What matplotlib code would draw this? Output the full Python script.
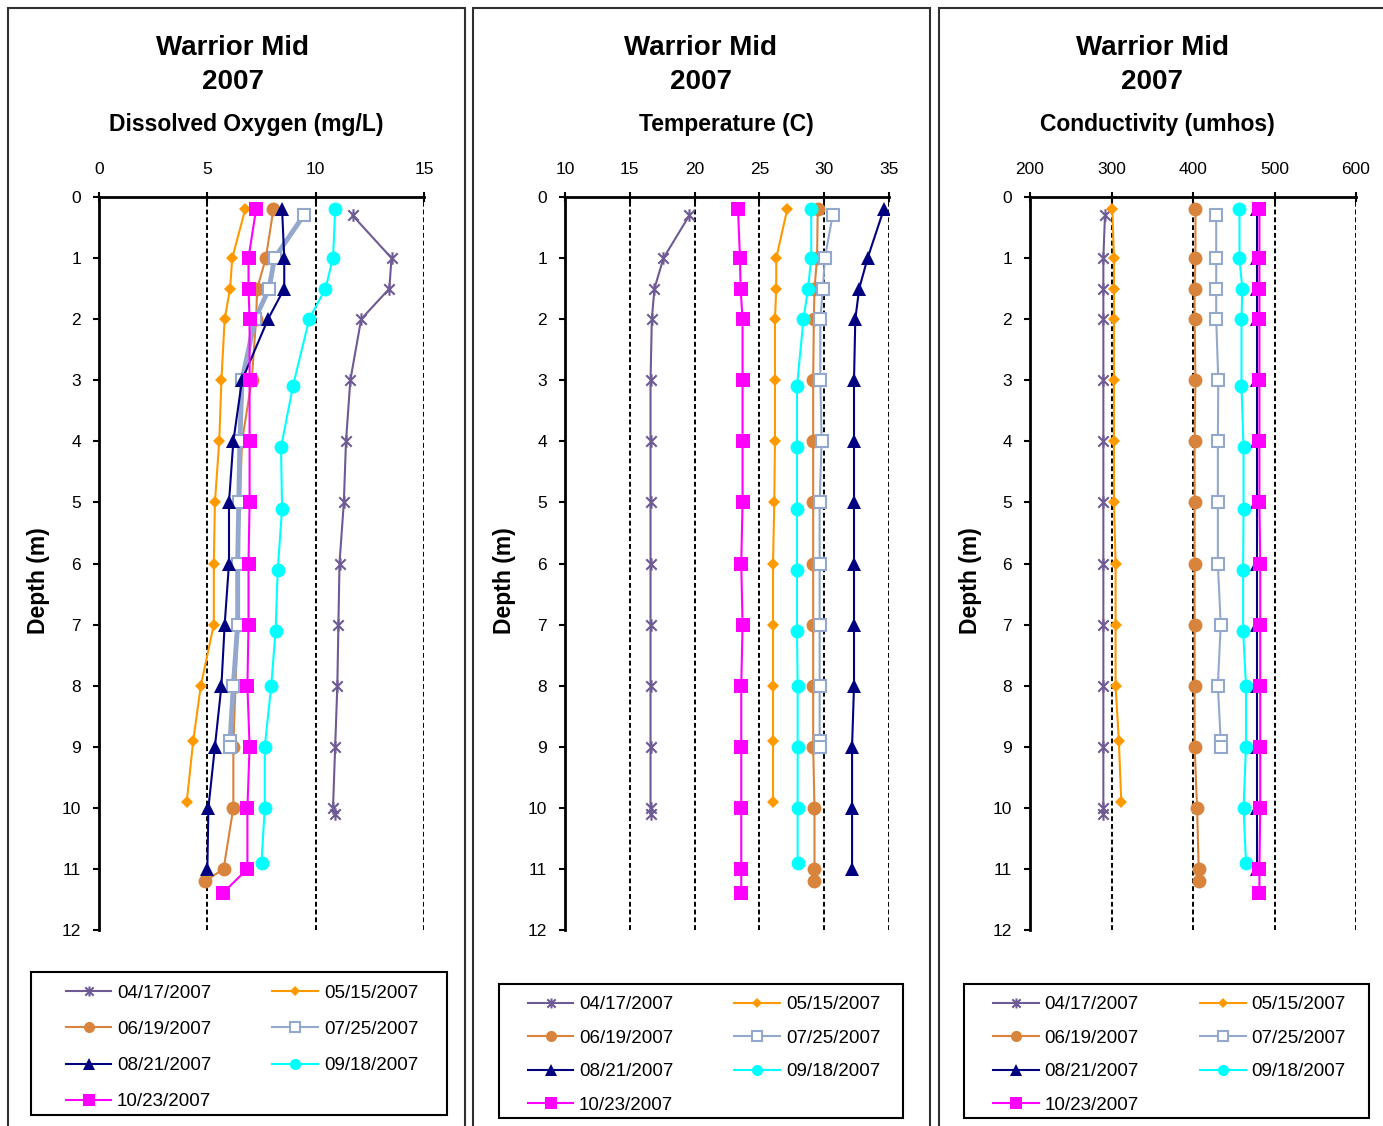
import matplotlib
matplotlib.use("Agg")
import matplotlib.pyplot as plt
from matplotlib.path import Path
from matplotlib.patches import Rectangle
from matplotlib.lines import Line2D

plt.rcParams["font.family"] = ["Liberation Sans", "DejaVu Sans"]

W, H = 1383, 1126

dates = ["04/17/2007", "05/15/2007", "06/19/2007", "07/25/2007",
         "08/21/2007", "09/18/2007", "10/23/2007"]

# sample depths (m) for each date
depth_0417 = [0.3, 1, 1.5, 2, 3, 4, 5, 6, 7, 8, 9, 10, 10.1]
depth_0515 = [0.2, 1, 1.5, 2, 3, 4, 5, 6, 7, 8, 8.9, 9.9]
depth_0619 = [0.2, 1, 1.5, 2, 3, 4, 5, 6, 7, 8, 9, 10, 11, 11.2]
depth_0725 = [0.3, 1, 1.5, 2, 3, 4, 5, 6, 7, 8, 8.9, 9]
depth_0821 = [0.2, 1, 1.5, 2, 3, 4, 5, 6, 7, 8, 9, 10, 11]
depth_0918 = [0.2, 1, 1.5, 2, 3.1, 4.1, 5.1, 6.1, 7.1, 8, 9, 10, 10.9]
depth_1023 = [0.2, 1, 1.5, 2, 3, 4, 5, 6, 7, 8, 9, 10, 11, 11.4]

# dissolved oxygen (mg/L)
do_0417 = [11.7, 13.5, 13.4, 12.1, 11.6, 11.4, 11.3, 11.1, 11.05, 11.0, 10.9, 10.8, 10.9]
do_0515 = [6.75, 6.15, 6.05, 5.8, 5.65, 5.55, 5.35, 5.3, 5.3, 4.7, 4.35, 4.05]
do_0619 = [8.05, 7.7, 7.3, 7.25, 7.05, 6.6, 6.5, 6.4, 6.4, 6.3, 6.2, 6.2, 5.75, 4.9]
do_0725 = [9.45, 8.1, 7.85, 7.2, 6.6, 6.5, 6.45, 6.4, 6.4, 6.2, 6.05, 6.05]
do_0821 = [8.45, 8.55, 8.55, 7.8, 6.6, 6.2, 6.0, 6.0, 5.8, 5.65, 5.35, 5.05, 5.0]
do_0918 = [10.9, 10.8, 10.45, 9.7, 8.95, 8.4, 8.45, 8.25, 8.15, 7.95, 7.65, 7.65, 7.5]
do_1023 = [7.25, 6.9, 6.9, 6.95, 6.95, 6.95, 6.95, 6.9, 6.9, 6.85, 6.95, 6.85, 6.85, 5.7]

# temperature (C)
temp_0417 = [19.6, 17.6, 16.9, 16.7, 16.6, 16.6, 16.6, 16.6, 16.6, 16.6, 16.6, 16.6, 16.6]
temp_0515 = [27.15, 26.3, 26.3, 26.2, 26.2, 26.2, 26.15, 26.05, 26.05, 26.05, 26.05, 26.05]
temp_0619 = [29.5, 29.45, 29.25, 29.2, 29.15, 29.15, 29.15, 29.15, 29.15, 29.15, 29.15, 29.25, 29.25, 29.25]
temp_0725 = [30.65, 30.05, 29.9, 29.7, 29.7, 29.8, 29.65, 29.65, 29.65, 29.65, 29.65, 29.65]
temp_0821 = [34.6, 33.35, 32.7, 32.4, 32.3, 32.3, 32.3, 32.3, 32.3, 32.3, 32.15, 32.15, 32.15]
temp_0918 = [29.0, 29.0, 28.75, 28.4, 27.9, 27.9, 27.9, 27.9, 27.9, 27.95, 27.95, 27.95, 27.95]
temp_1023 = [23.35, 23.5, 23.55, 23.7, 23.7, 23.7, 23.7, 23.6, 23.7, 23.6, 23.6, 23.6, 23.6, 23.6]

# conductivity (umhos)
cond_0417 = [292, 290, 290, 290, 290, 290, 290, 290, 290, 290, 290, 290, 290]
cond_0515 = [301, 303, 303, 303, 303, 303, 303, 305, 305, 305, 309, 312]
cond_0619 = [403, 403, 402, 402, 403, 402, 402, 402, 402, 402, 402, 405, 407, 407]
cond_0725 = [428.5, 428.5, 428.5, 428.5, 431, 430.5, 430.5, 430.5, 434, 430.5, 434, 434]
cond_0821 = [479, 479, 479, 479, 479, 479, 479, 479, 479, 479, 479, 479, 479]
cond_0918 = [457, 457, 460.5, 459.5, 459.5, 462, 462, 461.5, 461.5, 465, 465, 462, 465]
cond_1023 = [481.5, 481.5, 481.5, 481.5, 481.5, 481.5, 481.5, 482.5, 482.5, 482.5, 482.5, 482.5, 481.5, 481.5]

depths = [depth_0417, depth_0515, depth_0619, depth_0725, depth_0821, depth_0918, depth_1023]
do_vals = [do_0417, do_0515, do_0619, do_0725, do_0821, do_0918, do_1023]
temp_vals = [temp_0417, temp_0515, temp_0619, temp_0725, temp_0821, temp_0918, temp_1023]
cond_vals = [cond_0417, cond_0515, cond_0619, cond_0725, cond_0821, cond_0918, cond_1023]

# excel style star: an X with a vertical bar
star = Path([(-1, -1), (1, 1), (-1, 1), (1, -1), (0, -1.2), (0, 1.2)],
            [Path.MOVETO, Path.LINETO, Path.MOVETO, Path.LINETO, Path.MOVETO, Path.LINETO])

styles = [
    dict(color="#6E5A94", marker=star, ms=9, mew=1.5, mfc="#6E5A94", mec="#6E5A94"),
    dict(color="#FF9900", marker="D", ms=6.5, mew=0, mfc="#FF9900"),
    dict(color="#D9843C", marker="o", ms=10, mew=0, mfc="#D9843C"),
    dict(color="#93A8CC", marker="s", ms=8.5, mew=1.5, mfc="white", mec="#93A8CC"),
    dict(color="#000080", marker="^", ms=10, mew=0, mfc="#000080"),
    dict(color="#00FFFF", marker="o", ms=10, mew=0, mfc="#00FFFF"),
    dict(color="#FF00FF", marker="s", ms=10, mew=0, mfc="#FF00FF"),
]


def fx(px):
    return px / W


def fy(py):
    return 1 - py / H


fig = plt.figure(figsize=(W / 100, H / 100), dpi=100)

panels = [
    dict(left=99, right=424, vals=do_vals, xlim=(0, 15), step=5,
         label="Dissolved Oxygen (mg/L)", lab_x=246, title_x=233, depth_x=38,
         box=(8, 465), leg=(31, 972, 447, 1115), thick=True),
    dict(left=565, right=889, vals=temp_vals, xlim=(10, 35), step=5,
         label="Temperature (C)", lab_x=726, title_x=701, depth_x=505,
         box=(473, 930), leg=(499, 984, 903, 1118), thick=False),
    dict(left=1030, right=1356, vals=cond_vals, xlim=(200, 600), step=100,
         label="Conductivity (umhos)", lab_x=1157, title_x=1152, depth_x=970,
         box=(939, 1400), leg=(964, 984, 1369, 1118), thick=False),
]

top, bottom = 197, 930

for p in panels:
    ax = fig.add_axes([fx(p["left"]), fy(bottom), fx(p["right"] - p["left"]), (bottom - top) / H])
    for i, (d, v) in enumerate(zip(depths, p["vals"])):
        lw = 3.5 if (p["thick"] and i == 3) else 1.5
        ax.plot(v, d, lw=lw, zorder=3 + i, **styles[i])
    ax.set_xlim(*p["xlim"])
    ax.set_ylim(12, 0)
    x0, x1 = p["xlim"]
    ax.set_xticks(range(x0, x1 + 1, p["step"]))
    ax.set_yticks(range(0, 13))
    ax.xaxis.tick_top()
    ax.tick_params(axis="x", direction="inout", length=7, width=1.5, pad=11, labelsize=12.5)
    ax.tick_params(axis="y", direction="out", length=4, width=1.5, pad=9, labelsize=12.5)
    for s in ["right", "bottom"]:
        ax.spines[s].set_visible(False)
    for s in ["top", "left"]:
        ax.spines[s].set_linewidth(2)
    ax.grid(axis="x", color="black", linestyle=(0, (2.5, 1.5)), lw=1.4)
    ax.grid(axis="y", visible=False)
    ax.set_axisbelow(True)
    ax.patch.set_alpha(0)

    fig.text(fx(p["title_x"]), fy(48), "Warrior Mid", ha="center", va="center",
             fontsize=20, fontweight="bold")
    fig.text(fx(p["title_x"]), fy(82), "2007", ha="center", va="center",
             fontsize=20, fontweight="bold")
    fig.text(fx(p["lab_x"]), fy(125), p["label"], ha="center", va="center",
             fontsize=16.5, fontweight="bold")
    fig.text(fx(p["depth_x"]), fy(581), "Depth (m)", ha="center", va="center",
             rotation=90, fontsize=16.5, fontweight="bold")

    # outer panel border
    bx0, bx1 = p["box"]
    fig.add_artist(Rectangle((fx(bx0), fy(1200)), fx(bx1 - bx0), (1200 - 8) / H,
                             transform=fig.transFigure, fill=False,
                             edgecolor="#303030", lw=1.5))

    # legend with its own frame
    lx0, ly0, lx1, ly1 = p["leg"]
    fig.add_artist(Rectangle((fx(lx0), fy(ly1)), fx(lx1 - lx0), (ly1 - ly0) / H,
                             transform=fig.transFigure, fill=False,
                             edgecolor="black", lw=1.5))
    handles = []
    for i in [0, 2, 4, 6, 1, 3, 5]:
        st = dict(styles[i])
        st["ms"] = st["ms"] * 0.8
        handles.append(Line2D([], [], lw=1.5, label=dates[i], **st))
    spacing = 1.02 if p["thick"] else 0.87
    fig.legend(handles=handles, ncol=2, loc="center",
               bbox_to_anchor=(fx((lx0 + lx1) / 2 + 3), fy((ly0 + ly1) / 2 + 4)),
               frameon=False, fontsize=13.5, handlelength=2.45, handletextpad=0.3,
               columnspacing=3.25, labelspacing=spacing, borderpad=0)

fig.savefig("out.png", dpi=100)
